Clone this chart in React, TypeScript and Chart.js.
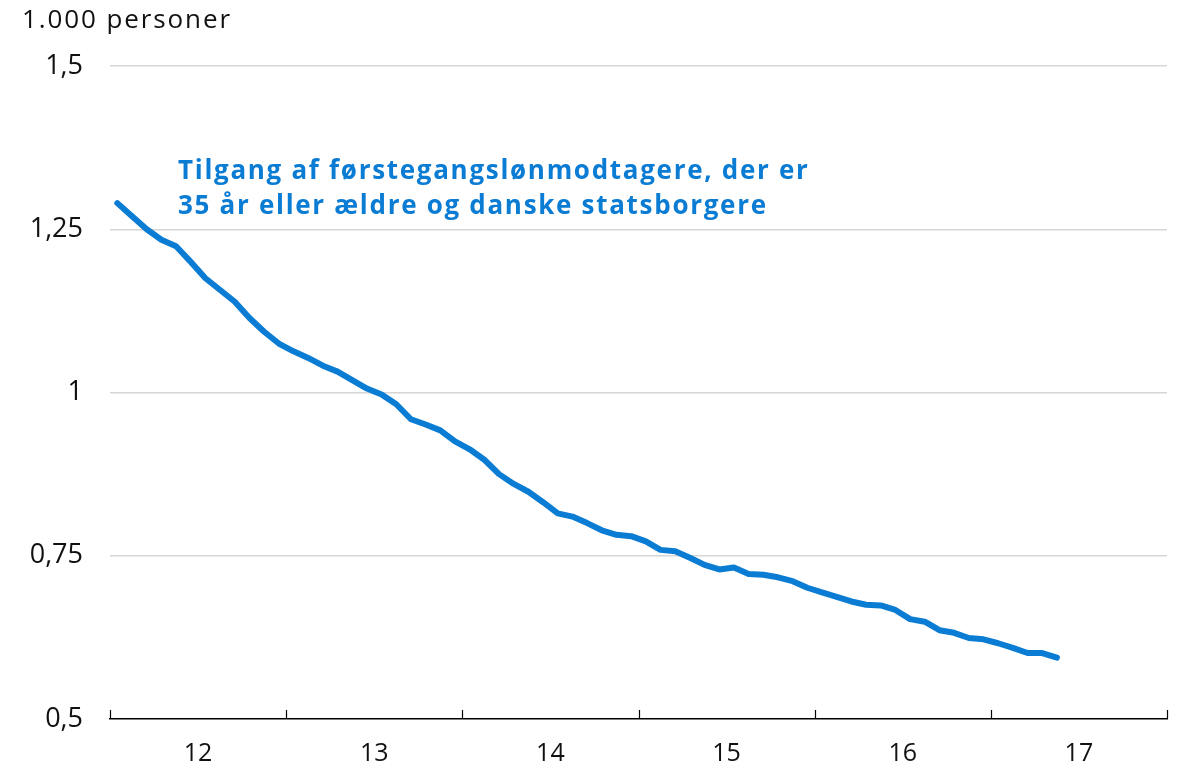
import React, { useEffect, useRef } from "react";
import { Chart, registerables } from "chart.js";

Chart.register(...registerables);

// Monthly values, Jan 2012 – May 2017 (1.000 personer)
const seriesValues: number[] = [
  1.290, 1.270, 1.250, 1.234, 1.224, 1.200, 1.175, 1.157, 1.139, 1.114, 1.093, 1.075,
  1.063, 1.053, 1.041, 1.032, 1.019, 1.006, 0.997, 0.982, 0.959, 0.951, 0.942, 0.925,
  0.913, 0.897, 0.875, 0.860, 0.848, 0.832, 0.815, 0.810, 0.800, 0.789, 0.782, 0.780,
  0.772, 0.759, 0.757, 0.747, 0.736, 0.729, 0.732, 0.722, 0.721, 0.717, 0.711, 0.701,
  0.694, 0.687, 0.680, 0.675, 0.674, 0.667, 0.653, 0.649, 0.636, 0.632, 0.624, 0.622,
  0.616, 0.609, 0.601, 0.601, 0.594,
];
const yearLabels: string[] = ["12", "13", "14", "15", "16", "17"];
const yTickValues: number[] = [0.5, 0.75, 1, 1.25, 1.5];
const yTickLabels: string[] = ["0,5", "0,75", "1", "1,25", "1,5"];
const unitLabel = "1.000 personer";
const annotationLines: string[] = [
  "Tilgang af førstegangslønmodtagere, der er",
  "35 år eller ældre og danske statsborgere",
];

const BLUE = "#0A7CD3";
const FONT = "'Open Sans'";

export default function App() {
  const ref = useRef<HTMLCanvasElement | null>(null);

  useEffect(() => {
    document.body.style.margin = "0";
    const canvas = ref.current;
    if (!canvas) return;
    const points = seriesValues.map((v, i) => ({ x: i + 0.5, y: v }));

    const extras = {
      id: "extras",
      afterDraw(chart: any) {
        const ctx = chart.ctx;
        const xs = chart.scales.x;
        const ys = chart.scales.y;
        ctx.save();
        // upward tick marks at year boundaries
        ctx.strokeStyle = "#000";
        ctx.lineWidth = 1.2;
        const yb = ys.getPixelForValue(0.5);
        for (let k = 0; k <= yearLabels.length; k++) {
          const px = Math.round(xs.getPixelForValue(k * 12)) + 0.5;
          ctx.beginPath();
          ctx.moveTo(px, yb);
          ctx.lineTo(px, yb - 9);
          ctx.stroke();
        }
        // unit label
        ctx.fillStyle = "#111";
        ctx.font = `26px ${FONT}`;
        ctx.textAlign = "left";
        ctx.textBaseline = "alphabetic";
        (ctx as any).letterSpacing = "1.9px";
        ctx.fillText(unitLabel, 22, 28);
        // annotation
        (ctx as any).letterSpacing = "1.7px";
        ctx.fillStyle = BLUE;
        ctx.font = `bold 26px ${FONT}`;
        ctx.fillText(annotationLines[0], 178, 179);
        ctx.fillText(annotationLines[1], 178, 214);
        (ctx as any).letterSpacing = "0px";
        ctx.restore();
      },
    };

    const chart = new Chart(canvas, {
      type: "line",
      data: {
        datasets: [
          {
            data: points,
            borderColor: BLUE,
            borderWidth: 6,
            pointRadius: 0,
            tension: 0,
            borderCapStyle: "round",
            borderJoinStyle: "round",
          },
        ],
      },
      options: {
        responsive: false,
        animation: false,
        plugins: { legend: { display: false }, tooltip: { enabled: false } },
        layout: { padding: { left: 0, right: 16, top: 66, bottom: 0 } },
        scales: {
          x: {
            type: "linear",
            min: 0,
            max: yearLabels.length * 12,
            afterBuildTicks(scale: any) {
              scale.ticks = yearLabels.map((_, k) => ({ value: k * 12 + 6 }));
            },
            afterFit(scale: any) {
              scale.height = 51;
            },
            grid: { display: false, drawTicks: false },
            border: { display: true, color: "#000", width: 1.5 },
            ticks: {
              padding: 20,
              maxRotation: 0,
              autoSkip: false,
              color: "#111",
              font: { family: FONT, size: 25 },
              callback: (v: any) => yearLabels[Math.floor(Number(v) / 12)] ?? "",
            },
          },
          y: {
            min: 0.5,
            max: 1.5,
            afterBuildTicks(scale: any) {
              scale.ticks = yTickValues.map((v) => ({ value: v }));
            },
            afterFit(scale: any) {
              scale.width = 110;
            },
            grid: {
              color: (c: any) => (c.tick && c.tick.value === 0.5 ? "rgba(0,0,0,0)" : "#D6D6D6"),
              lineWidth: 1.5,
              drawTicks: false,
            },
            border: { display: false },
            ticks: {
              padding: 27,
              color: "#111",
              font: { family: FONT, size: 27 },
              callback: (v: any) => {
                const idx = yTickValues.findIndex((t) => Math.abs(t - Number(v)) < 1e-9);
                return idx >= 0 ? yTickLabels[idx] : "";
              },
            },
          },
        },
      },
      plugins: [extras],
    } as any);

    return () => chart.destroy();
  }, []);

  return <canvas ref={ref} width={1183} height={770} style={{ display: "block" }} />;
}
